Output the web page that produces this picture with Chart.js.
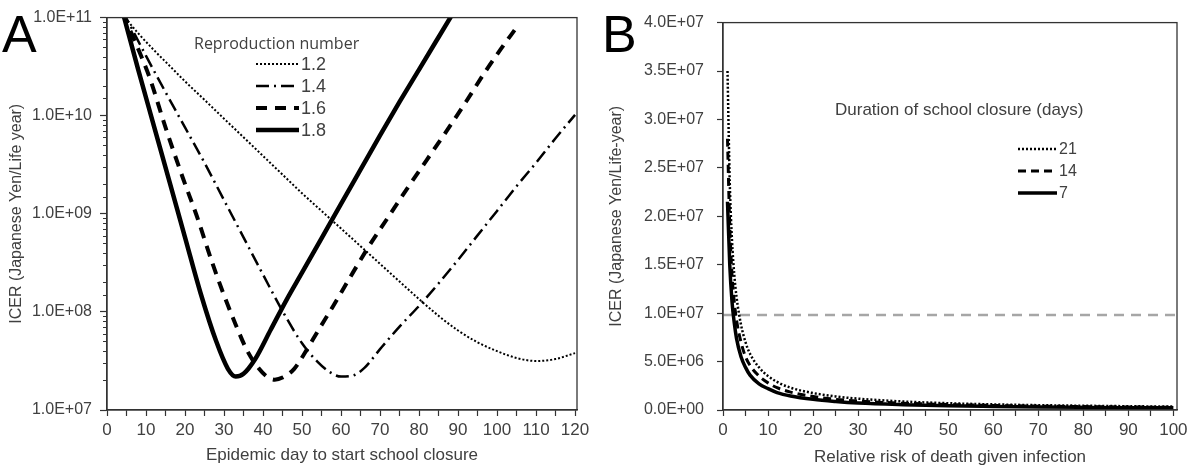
<!DOCTYPE html>
<html><head><meta charset="utf-8">
<script src="https://cdn.jsdelivr.net/npm/chart.js@4.4.1/dist/chart.umd.min.js"></script>
<style>
html,body{margin:0;padding:0;background:#fff;width:1200px;height:476px;overflow:hidden}
canvas{position:absolute;top:0}
#ca{left:0}
#cb{left:600px}
</style></head><body>
<canvas id="ca" width="600" height="476"></canvas>
<canvas id="cb" width="600" height="476"></canvas>
<script>
// ---------- Panel A data ----------
const r18Days = [4, 8, 12, 16, 20, 24, 28, 31, 33, 35, 38, 42, 46, 50, 55, 60, 65, 70, 75, 80, 85, 90];
const r18Icer = [1.15e11, 2.95e10, 7.94e9, 2.14e9, 5.75e8, 1.55e8, 5.01e7, 2.63e7, 2.19e7, 2.34e7, 3.31e7, 6.61e7, 1.32e8, 2.51e8, 5.62e8, 1.26e9, 2.82e9, 6.31e9, 1.38e10, 2.95e10, 6.31e10, 1.35e11];
const r16Days = [4, 8, 11, 15, 19.5, 23, 27, 30, 33, 36, 39, 41, 43, 45, 48, 51, 54, 58, 62, 67, 72, 77, 82, 87, 92, 97, 101, 105];
const r16Icer = [1.1e11, 4.79e10, 2.40e10, 7.59e9, 2.29e9, 9.55e8, 3.16e8, 1.48e8, 7.41e7, 3.98e7, 2.63e7, 2.19e7, 2.04e7, 2.14e7, 2.63e7, 3.98e7, 6.31e7, 1.15e8, 2.14e8, 4.57e8, 9.12e8, 1.82e9, 3.55e9, 6.92e9, 1.38e10, 2.82e10, 4.79e10, 7.94e10];
const r14Days = [4, 10, 15, 20, 25, 30, 35, 40, 45, 50, 54, 57, 60, 63, 66, 70, 75, 80, 85, 90, 95, 100, 105, 110, 115, 120];
const r14Icer = [1.17e11, 4.07e10, 1.74e10, 7.59e9, 3.31e9, 1.38e9, 5.75e8, 2.40e8, 1.02e8, 4.79e7, 3.09e7, 2.45e7, 2.19e7, 2.24e7, 2.69e7, 4.17e7, 7.08e7, 1.15e8, 1.95e8, 3.39e8, 6.03e8, 1.07e9, 1.91e9, 3.31e9, 5.89e9, 1.02e10];
const r12Days = [4, 8, 12, 16, 20, 25, 30, 35, 40, 45, 50, 55, 60, 65, 70, 75, 80, 85, 90, 95, 100, 105, 110, 115, 120];
const r12Icer = [1.07e11, 6.92e10, 4.68e10, 3.24e10, 2.24e10, 1.45e10, 9.33e9, 6.03e9, 3.89e9, 2.51e9, 1.62e9, 1.07e9, 7.08e8, 4.68e8, 3.09e8, 2.04e8, 1.35e8, 9.12e7, 6.46e7, 4.90e7, 3.98e7, 3.39e7, 3.16e7, 3.31e7, 3.80e7];
const seriesNamesA = ['1.2', '1.4', '1.6', '1.8'];
const yTickLabelsA = ['1.0E+07', '1.0E+08', '1.0E+09', '1.0E+10', '1.0E+11'];
const xTickLabelsA = ['0', '10', '20', '30', '40', '50', '60', '70', '80', '90', '100', '110', '120'];

// ---------- Panel B data ----------
const rrX = [1, 1.5, 2, 2.5, 3, 4, 5, 6, 8, 10, 12, 15, 20, 25, 30, 40, 50, 60, 70, 80, 90, 100];
const d21 = [3.5e7, 2.35e7, 1.75e7, 1.4e7, 1.17e7, 8.8e6, 7.0e6, 5.8e6, 4.4e6, 3.5e6, 2.9e6, 2.3e6, 1.75e6, 1.4e6, 1.17e6, 8.8e5, 7.0e5, 5.8e5, 5.0e5, 4.4e5, 3.9e5, 3.5e5];
const d14 = [2.8e7, 1.9e7, 1.4e7, 1.12e7, 9.3e6, 7.0e6, 5.5e6, 4.6e6, 3.5e6, 2.8e6, 2.3e6, 1.85e6, 1.4e6, 1.1e6, 9.2e5, 7.0e5, 5.6e5, 4.7e5, 4.0e5, 3.5e5, 3.1e5, 2.8e5];
const d7  = [2.15e7, 1.5e7, 1.12e7, 9.0e6, 7.4e6, 5.5e6, 4.4e6, 3.6e6, 2.7e6, 2.2e6, 1.8e6, 1.45e6, 1.1e6, 8.8e5, 7.2e5, 5.5e5, 4.4e5, 3.7e5, 3.1e5, 2.7e5, 2.4e5, 2.2e5];
const thresholdB = 9.8e6;
const seriesNamesB = ['21', '14', '7'];
const yTickLabelsB = ['0.0E+00', '5.0E+06', '1.0E+07', '1.5E+07', '2.0E+07', '2.5E+07', '3.0E+07', '3.5E+07', '4.0E+07'];
const xTickLabelsB = ['0', '10', '20', '30', '40', '50', '60', '70', '80', '90', '100'];

const TXT = '#404040', AX = '#333';
const ARIAL = '"Liberation Sans", Arial, sans-serif';
const pts = (xs, ys) => xs.map((x, i) => ({x, y: ys[i]}));
const isPow10 = v => Math.abs(Math.log10(v) - Math.round(Math.log10(v))) < 1e-9;

function framePlugin() {
  return { id: 'frame', afterDraw(chart) {
    const {ctx, chartArea: a} = chart;
    ctx.save(); ctx.strokeStyle = AX; ctx.lineWidth = 1.3;
    ctx.strokeRect(a.left, a.top, a.right - a.left, a.bottom - a.top);
    ctx.restore();
  }};
}
function legendPlugin(cfg) {
  return { id: 'customLegend', afterDraw(chart) {
    const ctx = chart.ctx; ctx.save();
    ctx.fillStyle = TXT; ctx.textBaseline = 'middle'; ctx.textAlign = 'left';
    ctx.font = cfg.titleFont; ctx.fillText(cfg.title, cfg.titleX, cfg.titleY);
    ctx.font = cfg.itemFont;
    cfg.items.forEach((it, i) => {
      const ds = chart.data.datasets[it.ds];
      const y = cfg.rowY[i];
      ctx.strokeStyle = ds.borderColor; ctx.lineWidth = ds.borderWidth;
      ctx.setLineDash(ds.borderDash || []); ctx.lineCap = 'butt';
      ctx.beginPath(); ctx.moveTo(cfg.x0, y); ctx.lineTo(cfg.x1, y); ctx.stroke();
      ctx.setLineDash([]);
      ctx.fillText(ds.label, cfg.x1 + 2, y + 1);
    });
    ctx.font = '52px ' + ARIAL; ctx.fillStyle = '#000'; ctx.textBaseline = 'alphabetic';
    ctx.fillText(cfg.letter, 2, 52);
    ctx.restore();
  }};
}
const minorTicksPlugin = { id: 'minorTicks', afterDraw(chart) {
  const s = chart.scales.y, ctx = chart.ctx;
  ctx.save(); ctx.strokeStyle = AX; ctx.lineWidth = 1.2; ctx.beginPath();
  s.ticks.forEach(t => { if (!isPow10(t.value)) { const y = Math.round(s.getPixelForValue(t.value)) + 0.5; ctx.moveTo(s.right - 4, y); ctx.lineTo(s.right, y); } });
  ctx.stroke(); ctx.restore();
}};

// ---------- Chart A ----------
new Chart(document.getElementById('ca'), {
  type: 'line',
  data: { datasets: [
    {label: seriesNamesA[0], data: pts(r12Days, r12Icer), borderColor: '#000', borderWidth: 2, borderDash: [2, 2]},
    {label: seriesNamesA[1], data: pts(r14Days, r14Icer), borderColor: '#000', borderWidth: 2.5, borderDash: [13, 5, 2, 5]},
    {label: seriesNamesA[2], data: pts(r16Days, r16Icer), borderColor: '#000', borderWidth: 4, borderDash: [11, 8]},
    {label: seriesNamesA[3], data: pts(r18Days, r18Icer), borderColor: '#000', borderWidth: 4.5}
  ]},
  options: {
    responsive: false, animation: false, devicePixelRatio: 1,
    elements: { point: {radius: 0}, line: {cubicInterpolationMode: 'monotone', fill: false} },
    layout: { padding: {top: 17, right: 23, left: 0, bottom: 0} },
    plugins: { legend: {display: false}, tooltip: {enabled: false} },
    scales: {
      x: { type: 'linear', min: 0, max: 120.5,
        ticks: { stepSize: 5, autoSkip: false, maxRotation: 0, color: TXT, font: {family: ARIAL, size: 17}, padding: 4, includeBounds: false,
          callback: v => (v % 10 === 0 ? xTickLabelsA[v / 10] : '') },
        afterBuildTicks: s => { s.ticks = s.ticks.filter(t => t.value % 5 === 0 && t.value <= 120); },
        grid: { drawOnChartArea: false, drawTicks: true, tickLength: 6, tickColor: AX, tickWidth: 1.2 },
        border: { color: AX, width: 1.3 },
        title: { display: true, text: 'Epidemic day to start school closure', color: TXT, font: {family: ARIAL, size: 17}, padding: {top: 0, bottom: 10} },
        afterFit: s => { s.height = 66; }
      },
      y: { type: 'logarithmic', min: 1e7, max: 1e11,
        ticks: { autoSkip: false, color: TXT, font: {family: ARIAL, size: 16}, padding: 8,
          callback: v => (isPow10(v) ? yTickLabelsA[Math.round(Math.log10(v)) - 7] : '') },
        grid: { drawOnChartArea: false, drawTicks: true, tickLength: 7, tickWidth: 1.2,
          tickColor: c => (c.tick && isPow10(c.tick.value) ? AX : 'rgba(0,0,0,0)') },
        border: { color: AX, width: 1.3 },
        title: { display: true, text: 'ICER (Japanese Yen/Life year)', color: TXT, font: {family: ARIAL, size: 16}, padding: {top: 7, bottom: 0} },
        afterFit: s => { s.width = 107; }
      }
    }
  },
  plugins: [framePlugin(), minorTicksPlugin, legendPlugin({
    title: 'Reproduction number', titleX: 194, titleY: 44, titleFont: '16px "Open Sans", sans-serif',
    itemFont: '18px ' + ARIAL, x0: 256, x1: 299, rowY: [64, 86, 108, 130],
    items: [{ds: 0}, {ds: 1}, {ds: 2}, {ds: 3}], letter: 'A'
  })]
});

// ---------- Chart B ----------
new Chart(document.getElementById('cb'), {
  type: 'line',
  data: { datasets: [
    {label: seriesNamesB[0], data: pts(rrX, d21), borderColor: '#000', borderWidth: 2.5, borderDash: [2, 2]},
    {label: seriesNamesB[1], data: pts(rrX, d14), borderColor: '#000', borderWidth: 3, borderDash: [8, 5]},
    {label: seriesNamesB[2], data: pts(rrX, d7), borderColor: '#000', borderWidth: 3.5},
    {label: 'threshold', data: [{x: 0, y: thresholdB}, {x: 100.8, y: thresholdB}], borderColor: '#a6a6a6', borderWidth: 2.5, borderDash: [10, 7]}
  ]},
  options: {
    responsive: false, animation: false, devicePixelRatio: 1,
    elements: { point: {radius: 0}, line: {cubicInterpolationMode: 'monotone', fill: false} },
    layout: { padding: {top: 20, right: 23, left: 0, bottom: 0} },
    plugins: { legend: {display: false}, tooltip: {enabled: false} },
    scales: {
      x: { type: 'linear', min: 0, max: 100.8,
        ticks: { stepSize: 5, autoSkip: false, maxRotation: 0, color: TXT, font: {family: ARIAL, size: 17}, padding: 4, includeBounds: false,
          callback: v => (v % 10 === 0 ? xTickLabelsB[v / 10] : '') },
        afterBuildTicks: s => { s.ticks = s.ticks.filter(t => t.value % 5 === 0 && t.value <= 100); },
        grid: { drawOnChartArea: false, drawTicks: true, tickLength: 6, tickColor: AX, tickWidth: 1.2 },
        border: { color: AX, width: 1.3 },
        title: { display: true, text: 'Relative risk of death given infection', color: TXT, font: {family: ARIAL, size: 17}, padding: {top: 0, bottom: 8} },
        afterFit: s => { s.height = 66; }
      },
      y: { type: 'linear', min: 0, max: 4e7,
        ticks: { stepSize: 5e6, autoSkip: false, color: TXT, font: {family: ARIAL, size: 16}, padding: 13,
          callback: v => yTickLabelsB[Math.round(v / 5e6)] },
        grid: { drawOnChartArea: false, drawTicks: true, tickLength: 6, tickColor: AX, tickWidth: 1.2 },
        border: { color: AX, width: 1.3 },
        title: { display: true, text: 'ICER (Japanese Yen/Life-year)', color: TXT, font: {family: ARIAL, size: 16}, padding: {top: 7, bottom: 0} },
        afterFit: s => { s.width = 123; }
      }
    }
  },
  plugins: [framePlugin(), legendPlugin({
    title: 'Duration of school closure (days)', titleX: 235, titleY: 110, titleFont: '17px ' + ARIAL,
    itemFont: '16px ' + ARIAL, x0: 418, x1: 457, rowY: [149, 171, 193],
    items: [{ds: 0}, {ds: 1}, {ds: 2}], letter: 'B'
  })]
});
</script>
</body></html>
